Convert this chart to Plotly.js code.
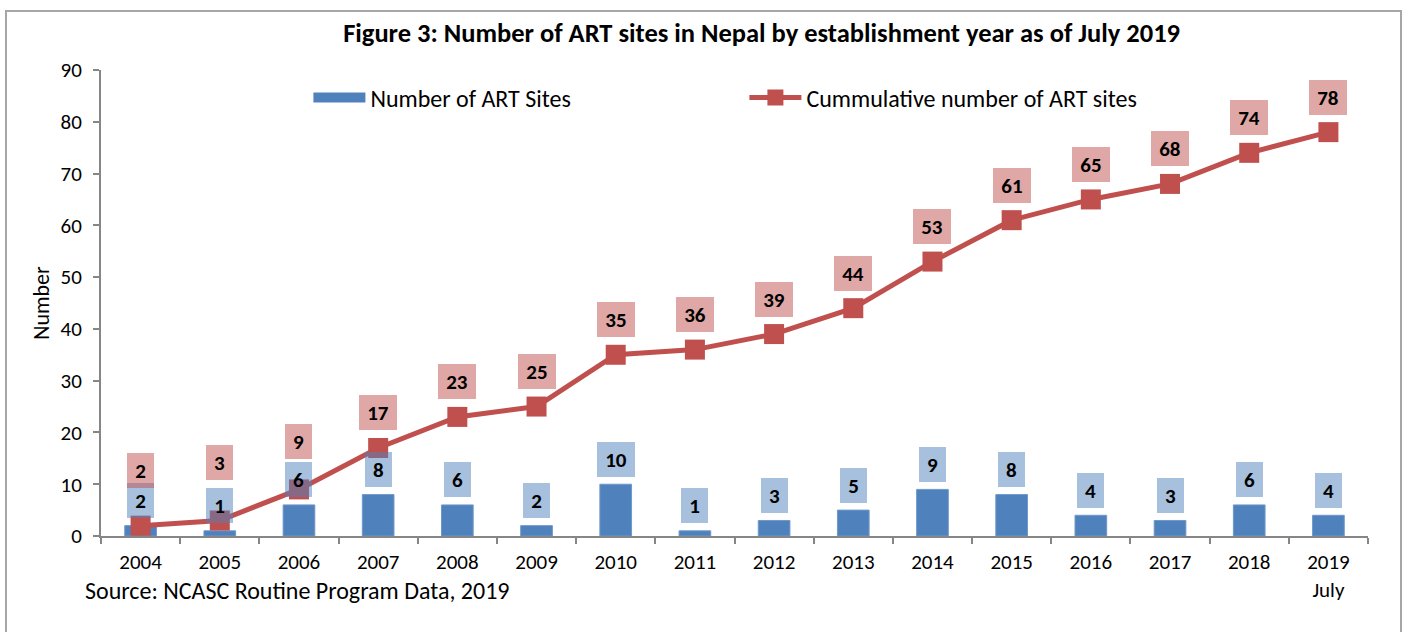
<!DOCTYPE html>
<html>
<head>
<meta charset="utf-8">
<script src="https://cdn.plot.ly/plotly-3.0.1.min.js"></script>
<style>
  html, body { margin: 0; padding: 0; background: #fff; }
  #wrap { position: relative; width: 1413px; height: 632px; overflow: hidden; }
  #chart { position: absolute; left: 0; top: 0; width: 1413px; height: 632px; }
  #frame { position: absolute; left: 5px; top: 10px; width: 1393px; height: 640px;
           border: 2px solid #a6a6a6; pointer-events: none; }
</style>
</head>
<body>
<div id="wrap"><div id="chart"></div><div id="frame"></div></div>
<script>
// ---- data ----
const tickLabels = ['2004','2005','2006','2007','2008','2009','2010','2011','2012','2013','2014','2015','2016','2017','2018','2019<br>July'];
const artSites = [2, 1, 6, 8, 6, 2, 10, 1, 3, 5, 9, 8, 4, 3, 6, 4];
const cumulativeSites = [2, 3, 9, 17, 23, 25, 35, 36, 39, 44, 53, 61, 65, 68, 74, 78];
const barSeriesName = 'Number of ART Sites';
const lineSeriesName = 'Cummulative number of ART sites';
const chartTitle = 'Figure 3: Number of ART sites in Nepal by establishment year as of July 2019';
const sourceNote = 'Source: NCASC Routine Program Data, 2019';

// ---- styling ----
const FONT = 'Carlito, Lato, sans-serif';
const blue = '#4f81bd', red = '#c0504d', axisGrey = '#868686';
const lineLabelShift = [55, 58, 48, 35, 35, 35, 35, 35, 35, 35, 35, 35, 35, 35, 35, 35];

const barTrace = {
  type: 'bar', x: tickLabels, y: artSites, name: barSeriesName,
  marker: { color: blue, line: { color: '#6f98c9', width: 1 } },
  hoverinfo: 'x+y', showlegend: false, legendrank: 1
};
// legend-only entry giving the bar series its wide Excel-style swatch
const barLegendEntry = {
  type: 'scatter', mode: 'lines', x: [null], y: [null], name: barSeriesName,
  line: { color: blue, width: 14 }, hoverinfo: 'skip', showlegend: true, legendrank: 1
};
const lineTrace = {
  type: 'scatter', mode: 'lines+markers', x: tickLabels, y: cumulativeSites, name: lineSeriesName,
  line: { color: red, width: 5 },
  marker: { symbol: 'square', size: 20, color: red },
  hoverinfo: 'x+y', legendrank: 2
};

const annotations = [];
function boxW(v) { return String(v).length > 1 ? 38 : 27; }
artSites.forEach((v, i) => {
  annotations.push({
    xref: 'x', yref: 'y', x: i, y: v, text: '<b>' + v + '</b>',
    showarrow: false, yanchor: 'middle', yshift: 25,
    bgcolor: 'rgba(79,129,189,0.5)', borderpad: 0, borderwidth: 0,
    width: boxW(v), height: 35,
    font: { family: FONT, size: 21, color: '#000' }
  });
});
cumulativeSites.forEach((v, i) => {
  annotations.push({
    xref: 'x', yref: 'y', x: i, y: v, text: '<b>' + v + '</b>',
    showarrow: false, yanchor: 'middle', yshift: lineLabelShift[i],
    bgcolor: 'rgba(192,80,77,0.5)', borderpad: 0, borderwidth: 0,
    width: boxW(v), height: 35,
    font: { family: FONT, size: 21, color: '#000' }
  });
});
annotations.push({
  xref: 'paper', yref: 'paper', x: -0.0145, y: -0.118, xanchor: 'left', yanchor: 'middle',
  text: sourceNote, showarrow: false,
  font: { family: FONT, size: 24, color: '#000' }
});

const layout = {
  width: 1413, height: 632,
  margin: { l: 101, r: 45, t: 70, b: 96 },
  paper_bgcolor: '#fff', plot_bgcolor: '#fff',
  font: { family: FONT, size: 20, color: '#000' },
  title: {
    text: '<b>' + chartTitle + '</b>',
    xref: 'container', x: 0.539, xanchor: 'center',
    yref: 'container', y: 0.949, yanchor: 'middle',
    font: { family: FONT, size: 26.5, color: '#000' }
  },
  showlegend: true,
  legend: {
    orientation: 'h', x: 0.1637, y: 0.94, xanchor: 'left', yanchor: 'middle',
    entrywidth: 369, entrywidthmode: 'pixels', itemwidth: 52,
    bgcolor: 'rgba(0,0,0,0)', font: { family: FONT, size: 24, color: '#000' },
    traceorder: 'normal'
  },
  bargap: 0.6,
  xaxis: {
    type: 'category', range: [-0.5, 15.5],
    showline: true, linecolor: axisGrey, linewidth: 2,
    ticks: 'outside', tickson: 'boundaries', ticklen: 6, tickcolor: axisGrey, tickwidth: 2,
    ticklabelstandoff: 6,
    showgrid: false, zeroline: false, fixedrange: true,
    tickfont: { family: FONT, size: 21, color: '#000' }
  },
  yaxis: {
    range: [0, 90], dtick: 10, tick0: 0,
    showline: true, linecolor: axisGrey, linewidth: 2,
    ticks: 'outside', ticklen: 6, tickcolor: axisGrey, tickwidth: 2,
    ticklabelstandoff: 7,
    showgrid: false, zeroline: false, fixedrange: true,
    tickfont: { family: FONT, size: 21, color: '#000' },
    title: { text: 'Number', font: { family: FONT, size: 22, color: '#000' }, standoff: 5 }
  },
  annotations: annotations
};

Plotly.newPlot('chart', [barTrace, barLegendEntry, lineTrace], layout, { displayModeBar: false });
</script>
</body>
</html>
